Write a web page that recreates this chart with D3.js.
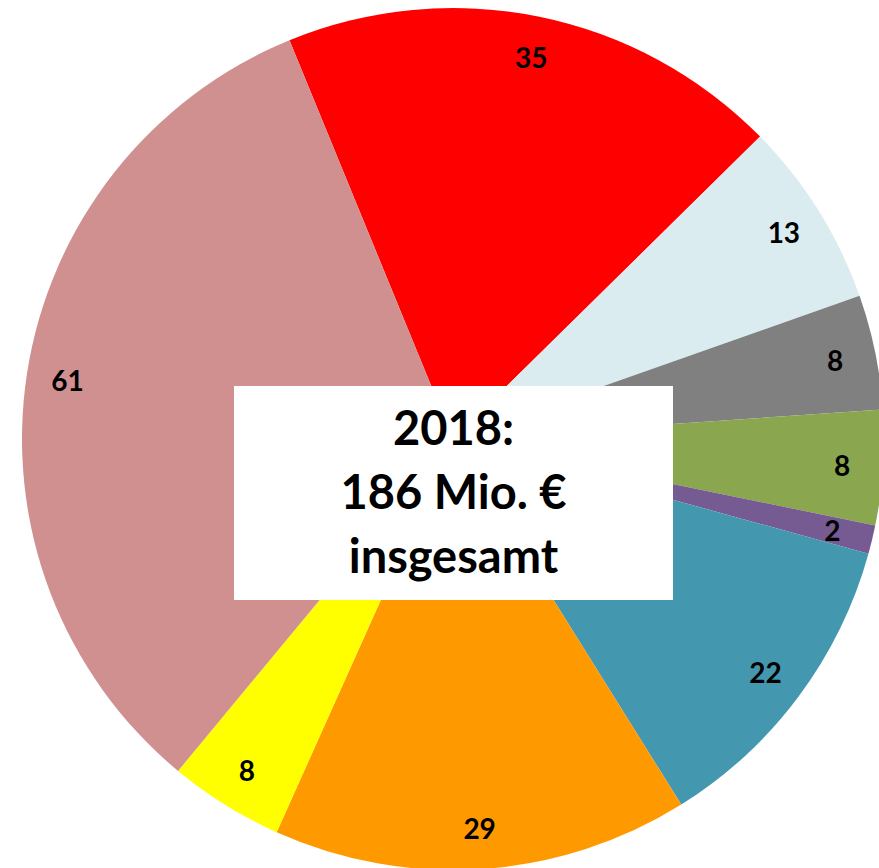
<!DOCTYPE html>
<html>
<head>
<meta charset="utf-8">
<script src="https://cdn.jsdelivr.net/npm/d3@7"></script>
<style>
html,body{margin:0;padding:0;background:#fff;overflow:hidden;}
svg{display:block;}
</style>
</head>
<body>
<svg id="chart" width="879" height="868"></svg>
<script>
const values = [35, 13, 8, 8, 2, 22, 29, 8, 61];
const colors = ["#FF0000", "#DAECEF", "#808080", "#8AA64F", "#765A92", "#4398B0", "#FF9900", "#FFFF00", "#D09090"];
const titleLines = ["2018:", "186 Mio. €", "insgesamt"];

const W = 879, H = 868;
const cx = 453, cy = 439, R = 431;
const start = -22.3 * Math.PI / 180;

const svg = d3.select("#chart");
const g = svg.append("g").attr("transform", `translate(${cx},${cy})`);

const pie = d3.pie().sort(null).value(d => d).startAngle(start).endAngle(start + 2 * Math.PI);
const arcs = pie(values);
const arc = d3.arc().innerRadius(0).outerRadius(R);
const labelArc = d3.arc().innerRadius(R * 0.905).outerRadius(R * 0.905);

g.selectAll("path.slice").data(arcs).join("path")
  .attr("class", "slice")
  .attr("d", arc)
  .attr("fill", (d, i) => colors[i]);

g.selectAll("text.lbl").data(arcs).join("text")
  .attr("class", "lbl")
  .attr("transform", d => `translate(${labelArc.centroid(d)})`)
  .attr("text-anchor", "middle")
  .attr("dominant-baseline", "central")
  .attr("font-family", "Lato, 'Open Sans', sans-serif")
  .attr("font-weight", 700)
  .attr("font-size", 28)
  .attr("fill", "#000")
  .text(d => d.data);

// Center box
const boxX = 234, boxY = 386, boxW = 439, boxH = 214;
svg.append("rect").attr("x", boxX).attr("y", boxY).attr("width", boxW).attr("height", boxH).attr("fill", "#fff");
const tx = boxX + boxW / 2;
const baselines = [445, 509, 573];
svg.selectAll("text.title").data(titleLines).join("text")
  .attr("class", "title")
  .attr("x", tx)
  .attr("y", (d, i) => baselines[i])
  .attr("text-anchor", "middle")
  .attr("font-family", "Lato, 'Open Sans', sans-serif")
  .attr("font-weight", 700)
  .attr("font-size", 47)
  .attr("fill", "#000")
  .text(d => d);
</script>
</body>
</html>
